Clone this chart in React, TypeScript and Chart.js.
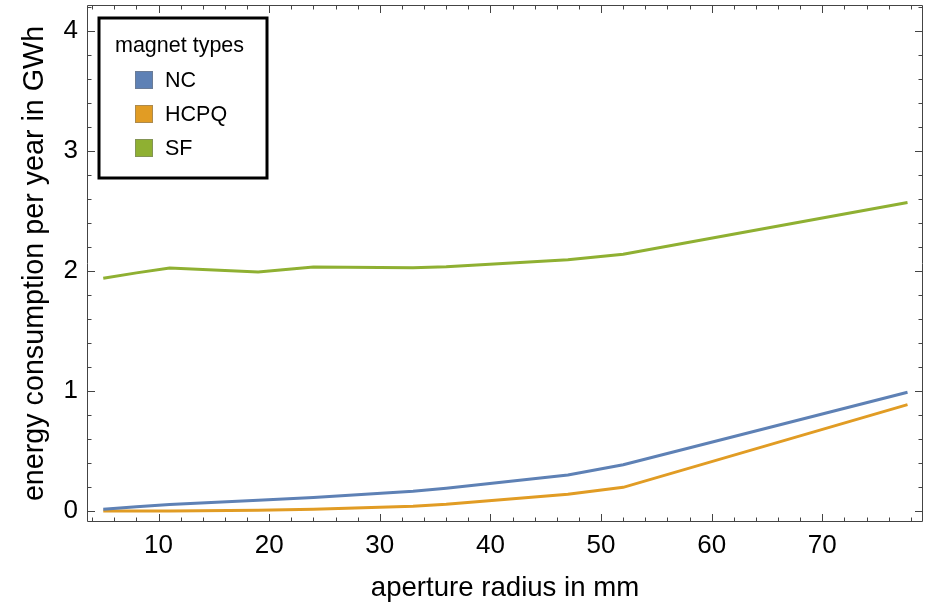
import React, { useEffect, useRef } from "react";
import { Chart, registerables } from "chart.js";

Chart.register(...registerables);

const apertureRadii = [5, 8, 11, 19, 24, 33, 36, 47, 52, 77.7];
const ncValues = [0.014, 0.035, 0.053, 0.09, 0.112, 0.165, 0.19, 0.3, 0.385, 0.99];
const hcpqValues = [0.0, 0.0, 0.0, 0.005, 0.015, 0.04, 0.056, 0.14, 0.197, 0.887];
const sfValues = [1.94, 1.985, 2.025, 1.993, 2.033, 2.027, 2.035, 2.095, 2.14, 2.572];

const seriesNames = ["NC", "HCPQ", "SF"];
const seriesColors = ["#5E81B5", "#E19C24", "#8FB032"];
const xTickLabels = [10, 20, 30, 40, 50, 60, 70];
const yTickLabels = [0, 1, 2, 3, 4];
const legendTitle = "magnet types";
const xTitle = "aperture radius in mm";
const yTitle = "energy consumption per year in GWh";

const FONT = "'Liberation Sans', Arial, sans-serif";

const framePlugin = {
  id: "frameTicks",
  afterDraw(chart: any) {
    const { ctx, chartArea: a, scales } = chart;
    const xs = scales.x;
    const ys = scales.y;
    ctx.save();
    ctx.strokeStyle = "#444";
    ctx.lineWidth = 1;
    ctx.beginPath();
    ctx.rect(a.left + 0.5, a.top + 0.5, a.right - a.left - 1, a.bottom - a.top - 1);
    ctx.stroke();
    const major = 8;
    const minor = 4.5;
    ctx.beginPath();
    for (let v = 4; v <= 78.01; v += 2) {
      const px = Math.round(xs.getPixelForValue(v)) + 0.5;
      const len = v % 10 === 0 ? major : minor;
      ctx.moveTo(px, a.bottom);
      ctx.lineTo(px, a.bottom - len);
      ctx.moveTo(px, a.top);
      ctx.lineTo(px, a.top + len);
    }
    for (let i = 0; i <= 21; i++) {
      const v = i * 0.2;
      const py = Math.round(ys.getPixelForValue(v)) + 0.5;
      const len = i % 5 === 0 ? major : minor;
      ctx.moveTo(a.left, py);
      ctx.lineTo(a.left + len, py);
      ctx.moveTo(a.right, py);
      ctx.lineTo(a.right - len, py);
    }
    ctx.stroke();

    // legend
    const bx = 99, by = 18, bw = 168, bh = 160;
    ctx.fillStyle = "#fff";
    ctx.fillRect(bx, by, bw, bh);
    ctx.strokeStyle = "#000";
    ctx.lineWidth = 3;
    ctx.strokeRect(bx, by, bw, bh);
    ctx.fillStyle = "#000";
    ctx.font = `21.5px ${FONT}`;
    ctx.textBaseline = "middle";
    ctx.textAlign = "left";
    ctx.fillText(legendTitle, 115, 46);
    chart.data.datasets.forEach((ds: any, i: number) => {
      const cy = 80 + i * 34;
      ctx.fillStyle = ds.borderColor;
      ctx.fillRect(135, cy - 9, 18, 18);
      ctx.strokeStyle = "rgba(120,120,120,0.5)";
      ctx.lineWidth = 1;
      ctx.strokeRect(135.5, cy - 8.5, 17, 17);
      ctx.fillStyle = "#000";
      ctx.fillText(ds.label, 165, cy + 1);
    });
    ctx.restore();
  },
};

export default function App() {
  const ref = useRef<HTMLCanvasElement>(null);
  useEffect(() => {
    document.body.style.margin = "0";
    const values = [ncValues, hcpqValues, sfValues];
    const chart = new Chart(ref.current as HTMLCanvasElement, {
      type: "line",
      data: {
        datasets: seriesNames.map((name, i) => ({
          label: name,
          data: apertureRadii.map((x, j) => ({ x, y: values[i][j] })),
          borderColor: seriesColors[i],
          backgroundColor: seriesColors[i],
          borderWidth: 3,
          pointRadius: 0,
          tension: 0,
          fill: false,
        })),
      },
      options: {
        animation: false,
        responsive: false,
        layout: { padding: { top: 5, right: 5, left: 0, bottom: 0 } },
        plugins: { legend: { display: false }, tooltip: { enabled: false } },
        scales: {
          x: {
            type: "linear",
            min: 3.53,
            max: 79.1,
            afterBuildTicks: (s: any) => {
              s.ticks = xTickLabels.map((v) => ({ value: v }));
            },
            afterFit: (s: any) => {
              s.height = 81;
              s.paddingLeft = 0;
              s.paddingRight = 0;
            },
            grid: { display: false, drawTicks: false },
            border: { display: false },
            ticks: {
              font: { family: FONT, size: 26 },
              color: "#000",
              padding: 8,
              maxRotation: 0,
              autoSkip: false,
            },
            title: {
              display: true,
              text: xTitle,
              font: { family: FONT, size: 27.6 },
              color: "#000",
              padding: { top: 0, bottom: -2 },
            },
          },
          y: {
            type: "linear",
            min: -0.092,
            max: 4.218,
            afterBuildTicks: (s: any) => {
              s.ticks = yTickLabels.map((v) => ({ value: v }));
            },
            afterFit: (s: any) => {
              s.width = 87;
              s.paddingTop = 0;
              s.paddingBottom = 0;
            },
            grid: { display: false, drawTicks: false },
            border: { display: false },
            ticks: {
              font: { family: FONT, size: 26 },
              color: "#000",
              padding: 9,
              autoSkip: false,
            },
            title: {
              display: true,
              text: yTitle,
              font: { family: FONT, size: 28.7 },
              color: "#000",
              padding: { top: 18, bottom: 0 },
            },
          },
        },
      },
      plugins: [framePlugin],
    });
    return () => chart.destroy();
  }, []);
  return (
    <div style={{ width: 928, height: 603 }}>
      <canvas ref={ref} width={928} height={603} style={{ display: "block" }} />
    </div>
  );
}
